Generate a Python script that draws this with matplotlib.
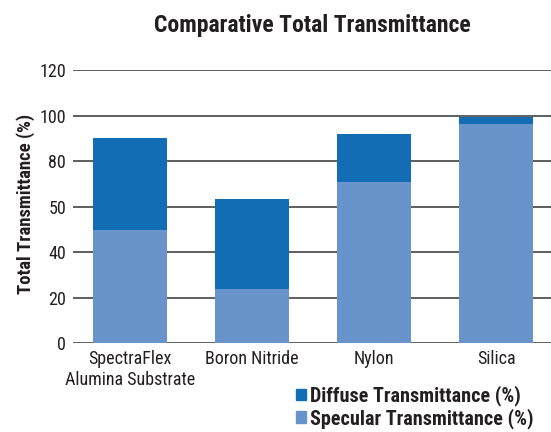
import matplotlib
matplotlib.use('Agg')
import matplotlib.pyplot as plt
from matplotlib.patches import Patch

plt.rcParams['font.family'] = ['Roboto Condensed', 'IBM Plex Sans Condensed', 'DejaVu Sans']

categories = ['SpectraFlex\nAlumina Substrate', 'Boron Nitride', 'Nylon', 'Silica']
specular = [50, 24, 71, 96.5]
diffuse = [40.5, 39.5, 21, 3]
tick_values = [0, 20, 40, 60, 80, 100, 120]
tick_labels = ['0', '20', '40', '50', '80', '100', '120']

dark_blue = '#136db5'
light_blue = '#6894cb'
text_color = '#231f20'

fig = plt.figure(figsize=(5.51, 4.32), dpi=100)
ax = fig.add_axes([0.1325, 0.2053, 0.8675, 0.6317])

x = list(range(len(categories)))
ax.bar(x, specular, width=0.6, color=light_blue, zorder=3)
ax.bar(x, diffuse, width=0.6, bottom=specular, color=dark_blue, zorder=3)

ax.set_ylim(0, 120)
ax.set_xlim(-0.467, 3.45)
ax.set_yticks(tick_values)
ax.set_yticklabels(tick_labels, fontsize=13, color=text_color)
ax.set_xticks(x)
ax.set_xticklabels(categories, fontsize=13, color=text_color, linespacing=1.2)
ax.tick_params(axis='y', length=0, pad=5)
ax.tick_params(axis='x', length=0, pad=5)
ax.yaxis.grid(True, color='#333333', linewidth=1.1, zorder=0)
for s in ax.spines.values():
    s.set_visible(False)

ax.set_ylabel('Total Transmittance (%)', fontsize=13.5, fontweight='bold', color=text_color)
ax.yaxis.set_label_coords(-0.08, 0.51)
fig.text(0.566, 0.94, 'Comparative Total Transmittance', ha='center', va='center',
         fontsize=17, fontweight='bold', color=text_color)

handles = [Patch(color=dark_blue), Patch(color=light_blue)]
fig.legend(handles, ['Diffuse Transmittance (%)', 'Specular Transmittance (%)'],
           loc='upper left', bbox_to_anchor=(0.537, 0.108), frameon=False,
           borderpad=0, borderaxespad=0,
           handlelength=0.5, handleheight=0.5, handletextpad=0.2, labelspacing=0.1,
           prop={'weight': 'bold', 'size': 14.5}, labelcolor=text_color)

fig.savefig('out.png', dpi=100)
